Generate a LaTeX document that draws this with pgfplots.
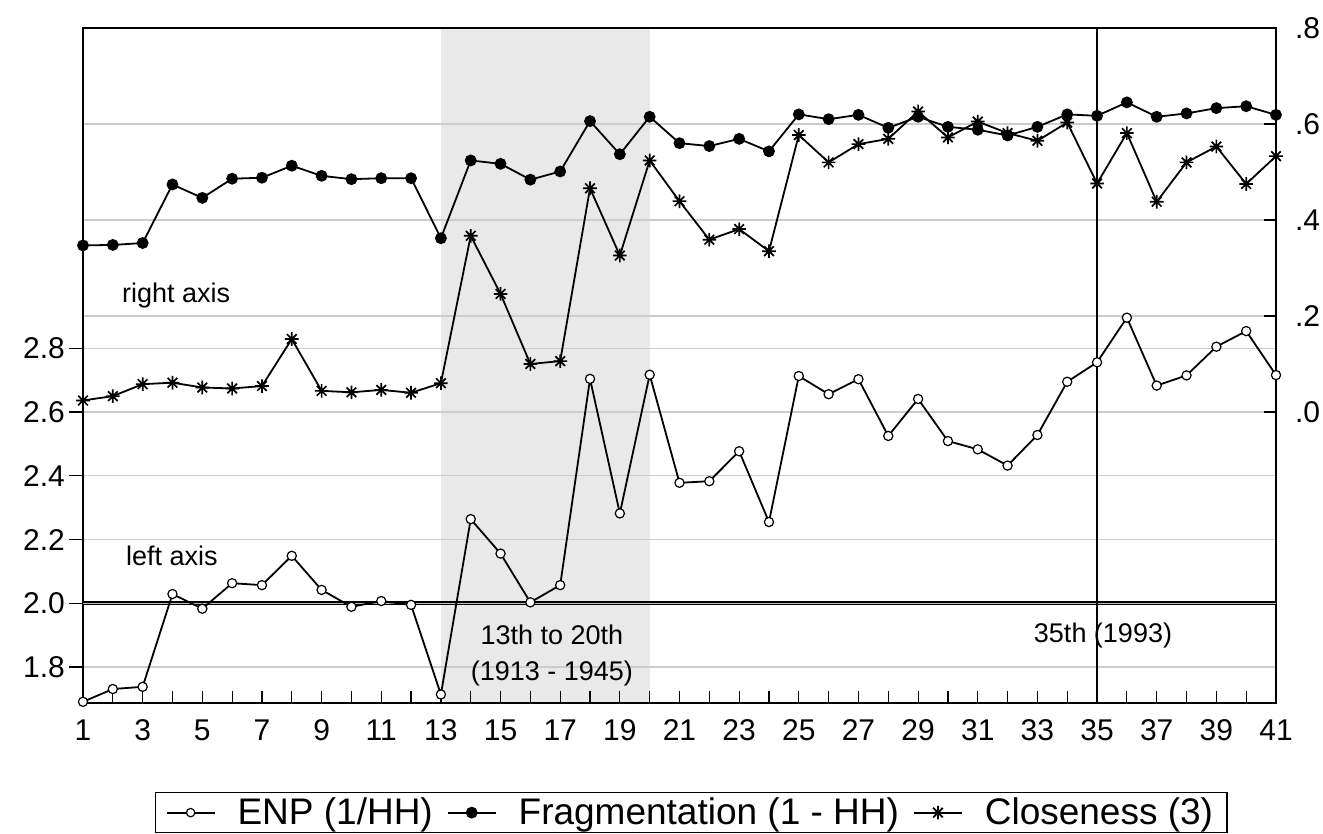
\documentclass[border=0pt]{standalone}
\usepackage{fontspec}
\setmainfont{Liberation Sans}
\usepackage{pgfplots}
\pgfplotsset{compat=1.18}
\definecolor{gridc}{RGB}{204,204,204}
\definecolor{shadec}{RGB}{233,233,233}
\pgfdeclareplotmark{ast8}{%
 \pgfpathmoveto{\pgfqpoint{-\pgfplotmarksize}{0pt}}\pgfpathlineto{\pgfqpoint{\pgfplotmarksize}{0pt}}%
 \pgfpathmoveto{\pgfqpoint{0pt}{-\pgfplotmarksize}}\pgfpathlineto{\pgfqpoint{0pt}{\pgfplotmarksize}}%
 \pgfpathmoveto{\pgfqpoint{-.707\pgfplotmarksize}{-.707\pgfplotmarksize}}\pgfpathlineto{\pgfqpoint{.707\pgfplotmarksize}{.707\pgfplotmarksize}}%
 \pgfpathmoveto{\pgfqpoint{-.707\pgfplotmarksize}{.707\pgfplotmarksize}}\pgfpathlineto{\pgfqpoint{.707\pgfplotmarksize}{-.707\pgfplotmarksize}}%
 \pgfusepathqstroke}
\pgfplotstableread{
x enp
1 1.691
2 1.731
3 1.738
4 2.029
5 1.983
6 2.063
7 2.057
8 2.149
9 2.042
10 1.989
11 2.007
12 1.995
13 1.714
14 2.264
15 2.156
16 2.003
17 2.057
18 2.704
19 2.282
20 2.717
21 2.378
22 2.383
23 2.477
24 2.255
25 2.713
26 2.656
27 2.703
28 2.525
29 2.641
30 2.509
31 2.483
32 2.432
33 2.528
34 2.695
35 2.756
36 2.896
37 2.683
38 2.715
39 2.805
40 2.854
41 2.716
}\enptab
\pgfplotstableread{
x frag clos
1 0.347 0.024
2 0.348 0.033
3 0.352 0.058
4 0.474 0.061
5 0.446 0.051
6 0.486 0.049
7 0.488 0.054
8 0.513 0.152
9 0.492 0.044
10 0.485 0.041
11 0.487 0.046
12 0.487 0.040
13 0.362 0.060
14 0.524 0.367
15 0.517 0.246
16 0.484 0.100
17 0.501 0.106
18 0.606 0.466
19 0.537 0.326
20 0.615 0.524
21 0.560 0.439
22 0.554 0.359
23 0.569 0.381
24 0.543 0.335
25 0.620 0.577
26 0.610 0.520
27 0.619 0.558
28 0.592 0.569
29 0.615 0.626
30 0.594 0.572
31 0.588 0.605
32 0.576 0.581
33 0.594 0.565
34 0.620 0.603
35 0.617 0.476
36 0.645 0.581
37 0.615 0.438
38 0.622 0.520
39 0.633 0.553
40 0.637 0.475
41 0.619 0.533
}\righttab
\begin{document}
\begin{tikzpicture}
\begin{axis}[
 set layers,
 scale only axis, width=596.5pt, height=337.5pt,
 xmin=1, xmax=41, ymin=1.6872, ymax=3.8049,
 axis line style={line width=0.7pt},
 xtick=\empty,
 ytick={1.8,2.0,2.2,2.4,2.6,2.8},
 yticklabels={1.8,2.0,2.2,2.4,2.6,2.8},
 ytick pos=left, tick align=outside, major tick length=7pt,
 tick style={black, line width=0.6pt},
 ymajorgrids, grid style={gridc, line width=0.6pt},
 extra y ticks={2.9012,3.2024,3.5035},
 extra y tick labels={,,},
 extra y tick style={grid=major, major tick length=0pt},
 yticklabel style={font=\fontsize{15}{18}\selectfont, xshift=1.5pt},
]
\begin{pgfonlayer}{axis background}
\fill[shadec] (axis cs:13,1.6872) rectangle (axis cs:20,3.8049);
\end{pgfonlayer}
\draw[black, line width=0.55pt, double=gray!50, double distance=0.7pt] (axis cs:1,2.0) -- (axis cs:41,2.0);
\draw[black, line width=0.6pt] (axis cs:35,1.6872) -- (axis cs:35,3.8049);
\node[font=\fontsize{13.5}{16}\selectfont] at (axis cs:4.12,2.967) {right axis};
\node[font=\fontsize{13.5}{16}\selectfont] at (axis cs:3.98,2.148) {left axis};
\node[font=\fontsize{13.5}{16}\selectfont] at (axis cs:16.72,1.900) {13th to 20th};
\node[font=\fontsize{13.5}{16}\selectfont] at (axis cs:16.72,1.781) {(1913 - 1945)};
\node[font=\fontsize{13.5}{16}\selectfont] at (axis cs:35.2,1.900) {35th (1993)};
\addplot[black, line width=0.9pt, mark=*, mark size=2.3pt, mark options={fill=white, line width=0.6pt}] table[x=x, y=enp] {\enptab};
\end{axis}
\begin{axis}[
 set layers,
 scale only axis, width=596.5pt, height=337.5pt,
 xmin=1, xmax=41, ymin=-0.60625, ymax=0.8,
 axis line style={line width=0.7pt},
 xtick={1,...,41},
 xticklabels={1,,3,,5,,7,,9,,11,,13,,15,,17,,19,,21,,23,,25,,27,,29,,31,,33,,35,,37,,39,,41},
 xtick pos=bottom,
 ytick={0,0.2,0.4,0.6,0.8}, yticklabels={.0,.2,.4,.6,.8},
 ytick pos=right,
 tick align=inside, major tick length=6pt,
 tick style={black, line width=0.6pt},
 ticklabel style={font=\fontsize{15}{18}\selectfont},
 xticklabel style={anchor=north, text height=11pt, text depth=1pt, yshift=-4pt},
 yticklabel style={xshift=6pt},
 legend columns=3,
 legend style={at={(0.0604,-0.1319)}, anchor=north west, draw=black, line width=0.7pt,
   font=\fontsize{18.5}{21}\selectfont, inner xsep=5pt, inner ysep=0.5pt,
   /tikz/every odd column/.append style={column sep=9pt},
   /tikz/every even column/.append style={column sep=5pt}},
 legend image code/.code={\draw (0pt,0pt) -- (24pt,0pt); \draw[only marks] plot coordinates {(12pt,0pt)};},
]
\addlegendimage{black, line width=0.9pt, mark=*, mark size=2.1pt, mark options={fill=white, line width=0.6pt}}
\addlegendentry{ENP (1/HH)}
\addplot[black, line width=0.9pt, mark=*, mark size=2.5pt] table[x=x, y=frag] {\righttab};
\addlegendentry{Fragmentation (1 - HH)}
\addplot[black, line width=0.9pt, mark=ast8, mark size=3.4pt, mark options={line width=0.85pt}] table[x=x, y=clos] {\righttab};
\addlegendentry{Closeness (3)\hspace{22pt}}
\end{axis}
\pgfresetboundingbox
\useasboundingbox (-41.5pt,-65.5pt) rectangle (620pt,351.5pt);
\end{tikzpicture}
\end{document}
